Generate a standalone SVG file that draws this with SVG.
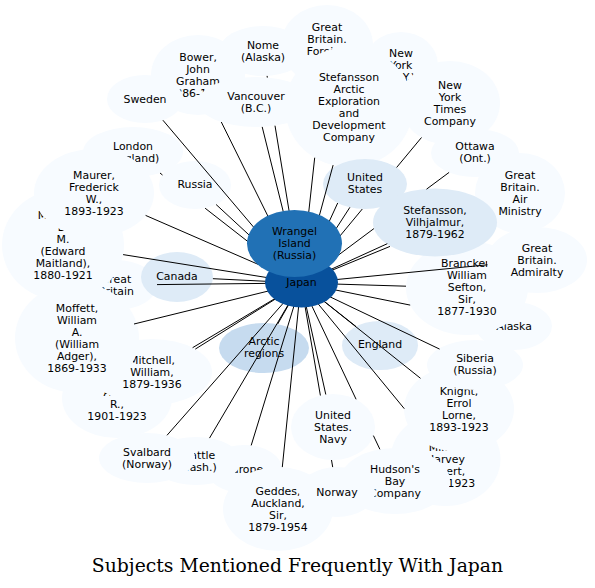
<svg xmlns="http://www.w3.org/2000/svg" width="595" height="588" viewBox="0 0 595 588">
<style>
text{font-family:"DejaVu Sans","Liberation Sans",sans-serif;font-size:10.9px;text-anchor:middle;fill:#000}
.l ellipse{fill:#f7fbff}
.m ellipse{fill:#deebf7}
.a ellipse{fill:#c6dbef}
.w ellipse{fill:#2171b5}
.j ellipse{fill:#08519c}
#edges path{stroke:#000;stroke-width:1;fill:none}
.title{font-family:"DejaVu Serif","Liberation Serif",serif;font-size:18.8px}
</style>
<rect width="595" height="588" fill="#fff"/>
<g id="n-gbfo" class="l"><ellipse cx="327" cy="45" rx="46" ry="40"/><text y="30.9"><tspan x="327">Great</tspan><tspan x="327" dy="12">Britain.</tspan><tspan x="327" dy="12">Foreign</tspan><tspan x="327" dy="12">Office</tspan></text></g>
<g id="n-nome" class="l"><ellipse cx="263" cy="51" rx="44" ry="25"/><text y="49.4"><tspan x="263">Nome</tspan><tspan x="263" dy="12">(Alaska)</tspan></text></g>
<g id="n-bower" class="l"><ellipse cx="198" cy="75" rx="47" ry="40"/><text y="60.9"><tspan x="198">Bower,</tspan><tspan x="198" dy="12">John</tspan><tspan x="198" dy="12">Graham</tspan><tspan x="198" dy="12">1886-1940</tspan></text></g>
<g id="n-sweden" class="l"><ellipse cx="145" cy="99" rx="38" ry="24"/><text x="145" y="102.9">Sweden</text></g>
<g id="n-vancouver" class="l"><ellipse cx="256" cy="102" rx="58" ry="25"/><text y="99.9"><tspan x="256">Vancouver</tspan><tspan x="256" dy="12">(B.C.)</tspan></text></g>
<g id="n-ny" class="l"><ellipse cx="401" cy="65" rx="37" ry="33"/><text y="56.9"><tspan x="401">New</tspan><tspan x="401" dy="12">York</tspan><tspan x="401" dy="12">(N.Y.)</tspan></text></g>
<g id="n-saedc" class="l"><ellipse cx="349" cy="107" rx="64" ry="60"/><text y="81.2"><tspan x="349">Stefansson</tspan><tspan x="349" dy="12">Arctic</tspan><tspan x="349" dy="12">Exploration</tspan><tspan x="349" dy="12">and</tspan><tspan x="349" dy="12">Development</tspan><tspan x="349" dy="12">Company</tspan></text></g>
<g id="n-nyt" class="l"><ellipse cx="450" cy="103" rx="50" ry="42"/><text y="88.9"><tspan x="450">New</tspan><tspan x="450" dy="12">York</tspan><tspan x="450" dy="12">Times</tspan><tspan x="450" dy="12">Company</tspan></text></g>
<g id="n-ottawa" class="l"><ellipse cx="475" cy="153" rx="44" ry="24"/><text y="149.9"><tspan x="475">Ottawa</tspan><tspan x="475" dy="12">(Ont.)</tspan></text></g>
<g id="n-airmin" class="l"><ellipse cx="520" cy="193" rx="45" ry="40"/><text y="178.9"><tspan x="520">Great</tspan><tspan x="520" dy="12">Britain.</tspan><tspan x="520" dy="12">Air</tspan><tspan x="520" dy="12">Ministry</tspan></text></g>
<g id="n-alaska" class="l"><ellipse cx="514" cy="326" rx="38" ry="24"/><text x="514" y="329.9">Alaska</text></g>
<g id="n-brancker" class="l"><ellipse cx="467" cy="288" rx="61" ry="47"/><text y="267.4"><tspan x="467">Brancker,</tspan><tspan x="467" dy="12">William</tspan><tspan x="467" dy="12">Sefton,</tspan><tspan x="467" dy="12">Sir,</tspan><tspan x="467" dy="12">1877-1930</tspan></text></g>
<g id="n-admiralty" class="l"><ellipse cx="537" cy="260" rx="50" ry="33"/><text y="251.9"><tspan x="537">Great</tspan><tspan x="537" dy="12">Britain.</tspan><tspan x="537" dy="12">Admiralty</tspan></text></g>
<g id="n-galle" class="l"><ellipse cx="445.5" cy="459" rx="55" ry="47"/><text y="438.9"><tspan x="445.5">Galle,</tspan><tspan x="445.5" dy="12">Milton</tspan><tspan x="445.5" dy="12">Harvey</tspan><tspan x="445.5" dy="12">Robert,</tspan><tspan x="445.5" dy="12">1901-1923</tspan></text></g>
<g id="n-knight" class="l"><ellipse cx="459" cy="409" rx="55" ry="43"/><text y="394.7"><tspan x="459">Knight,</tspan><tspan x="459" dy="12">Errol</tspan><tspan x="459" dy="12">Lorne,</tspan><tspan x="459" dy="12">1893-1923</tspan></text></g>
<g id="n-siberia" class="l"><ellipse cx="475" cy="365" rx="48" ry="25"/><text y="361.9"><tspan x="475">Siberia</tspan><tspan x="475" dy="12">(Russia)</tspan></text></g>
<g id="n-hudson" class="l"><ellipse cx="395" cy="481" rx="55" ry="33"/><text y="473.4"><tspan x="395">Hudson's</tspan><tspan x="395" dy="12">Bay</tspan><tspan x="395" dy="12">Company</tspan></text></g>
<g id="n-europe" class="l"><ellipse cx="244" cy="469" rx="38" ry="24"/><text x="244" y="472.9">Europe</text></g>
<g id="n-geddes" class="l"><ellipse cx="278" cy="509" rx="55" ry="42"/><text y="494.9"><tspan x="278">Geddes,</tspan><tspan x="278" dy="12">Auckland,</tspan><tspan x="278" dy="12">Sir,</tspan><tspan x="278" dy="12">1879-1954</tspan></text></g>
<g id="n-norway" class="l"><ellipse cx="337" cy="492" rx="38" ry="25"/><text x="337" y="495.9">Norway</text></g>
<g id="n-usnavy" class="l"><ellipse cx="333" cy="427" rx="42" ry="33"/><text y="419.2"><tspan x="333">United</tspan><tspan x="333" dy="12">States.</tspan><tspan x="333" dy="12">Navy</tspan></text></g>
<g id="n-seattle" class="l"><ellipse cx="196" cy="461" rx="45" ry="24"/><text y="458.9"><tspan x="196">Seattle</tspan><tspan x="196" dy="12">(Wash.)</tspan></text></g>
<g id="n-svalbard" class="l"><ellipse cx="147" cy="458" rx="48" ry="25"/><text y="455.9"><tspan x="147">Svalbard</tspan><tspan x="147" dy="12">(Norway)</tspan></text></g>
<g id="n-crawford" class="l"><ellipse cx="117" cy="398" rx="55" ry="40"/><text y="384.2"><tspan x="117">Crawford,</tspan><tspan x="117" dy="12">Allan</tspan><tspan x="117" dy="12">R.,</tspan><tspan x="117" dy="12">1901-1923</tspan></text></g>
<g id="n-mitchell" class="l"><ellipse cx="152" cy="372" rx="60" ry="33"/><text y="364.4"><tspan x="152">Mitchell,</tspan><tspan x="152" dy="12">William,</tspan><tspan x="152" dy="12">1879-1936</tspan></text></g>
<g id="n-gbleft" class="l"><ellipse cx="116" cy="285" rx="41" ry="25"/><text y="282.9"><tspan x="116">Great</tspan><tspan x="116" dy="12">Britain</tspan></text></g>
<g id="n-moffett" class="l"><ellipse cx="77" cy="338" rx="62" ry="55"/><text y="312.2"><tspan x="77">Moffett,</tspan><tspan x="77" dy="12">William</tspan><tspan x="77" dy="12">A.</tspan><tspan x="77" dy="12">(William</tspan><tspan x="77" dy="12">Adger),</tspan><tspan x="77" dy="12">1869-1933</tspan></text></g>
<g id="n-maitland" class="l"><ellipse cx="63" cy="245" rx="61" ry="56"/><text y="218.9"><tspan x="63">Maitland,</tspan><tspan x="63" dy="12">E.</tspan><tspan x="63" dy="12">M.</tspan><tspan x="63" dy="12">(Edward</tspan><tspan x="63" dy="12">Maitland),</tspan><tspan x="63" dy="12">1880-1921</tspan></text></g>
<g id="n-london" class="l"><ellipse cx="133" cy="152" rx="50" ry="25"/><text y="150.4"><tspan x="133">London</tspan><tspan x="133" dy="12">(England)</tspan></text></g>
<g id="n-maurer" class="l"><ellipse cx="94" cy="193" rx="60" ry="44"/><text y="178.9"><tspan x="94">Maurer,</tspan><tspan x="94" dy="12">Frederick</tspan><tspan x="94" dy="12">W.,</tspan><tspan x="94" dy="12">1893-1923</tspan></text></g>
<g id="n-russia" class="l"><ellipse cx="195" cy="185" rx="36" ry="24"/><text x="195" y="188.4">Russia</text></g>
<g id="n-us" class="m"><ellipse cx="365" cy="184" rx="42" ry="25"/><text y="180.7"><tspan x="365">United</tspan><tspan x="365" dy="12">States</tspan></text></g>
<g id="n-stefv" class="m"><ellipse cx="435" cy="222.5" rx="62" ry="34"/><text y="213.9"><tspan x="435">Stefansson,</tspan><tspan x="435" dy="12">Vilhjalmur,</tspan><tspan x="435" dy="12">1879-1962</tspan></text></g>
<g id="n-canada" class="m"><ellipse cx="177" cy="277" rx="36" ry="25"/><text x="177" y="279.9">Canada</text></g>
<g id="n-arctic" class="a"><ellipse cx="264" cy="348" rx="45" ry="25"/><text y="345.2"><tspan x="264">Arctic</tspan><tspan x="264" dy="12">regions</tspan></text></g>
<g id="n-england" class="m"><ellipse cx="380" cy="345.5" rx="38" ry="24.5"/><text x="380" y="348.4">England</text></g>
<g id="edges">
<path d="M301,283L275,125.7M267.3,77.6L267.1,75.9"/>
<path d="M301,283L221.3,122"/>
<path d="M301,283L262.2,126.9"/>
<path d="M301,283L162.9,120.2"/>
<path d="M301,283L314.7,157.7"/>
<path d="M301,283L337.7,203"/>
<path d="M301,283L333.1,165.1"/>
<path d="M301,283L362.3,209M396.6,167.5L421.5,137.5"/>
<path d="M301,283L349.9,207.3"/>
<path d="M301,283L373.9,228.6M426.5,189.2L449.1,172.4"/>
<path d="M301,283L390,246.4"/>
<path d="M301,283L387.3,243.7"/>
<path d="M301,283L410.2,305.1"/>
<path d="M301,283L406,286.2"/>
<path d="M301,283L487.5,264.8"/>
<path d="M301,283L356,326.5"/>
<path d="M301,283L404.3,408.7"/>
<path d="M301,283L420.5,378.3"/>
<path d="M301,283L439.6,349.1"/>
<path d="M301,283L356.1,399.3M373.4,435.6L379.9,449.3"/>
<path d="M301,283L320.4,395.5M331.5,460L332.7,467.1"/>
<path d="M301,283L325.8,394.5"/>
<path d="M301,283L282.3,467.1"/>
<path d="M301,283L251.2,445.4"/>
<path d="M301,283L209.5,438.1"/>
<path d="M301,283L167,435.3"/>
<path d="M301,283L277.6,324.2"/>
<path d="M301,283L195.3,349.1"/>
<path d="M301,283L192.6,347.7"/>
<path d="M301,283L134,324"/>
<path d="M301,283L212.9,278.7"/>
<path d="M301,283L157,284.6"/>
<path d="M301,283L123.1,254.6"/>
<path d="M301,283L145.6,215.4"/>
<path d="M301,283L205.1,208.2M162.5,175L160,173"/>
<path d="M301,283L216.1,204.5"/>
<path d="M301,283L300,276.8"/>
</g>
<g id="n-japan" class="j"><ellipse cx="301.5" cy="282.5" rx="36.5" ry="25"/><text x="301.5" y="285.6">Japan</text></g>
<g id="n-wrangel" class="w"><ellipse cx="294.5" cy="243.5" rx="47.5" ry="33.5"/><text y="234.6"><tspan x="294.5">Wrangel</tspan><tspan x="294.5" dy="12">Island</tspan><tspan x="294.5" dy="12">(Russia)</tspan></text></g>
<text class="title" x="297.5" y="572">Subjects Mentioned Frequently With Japan</text>
</svg>
